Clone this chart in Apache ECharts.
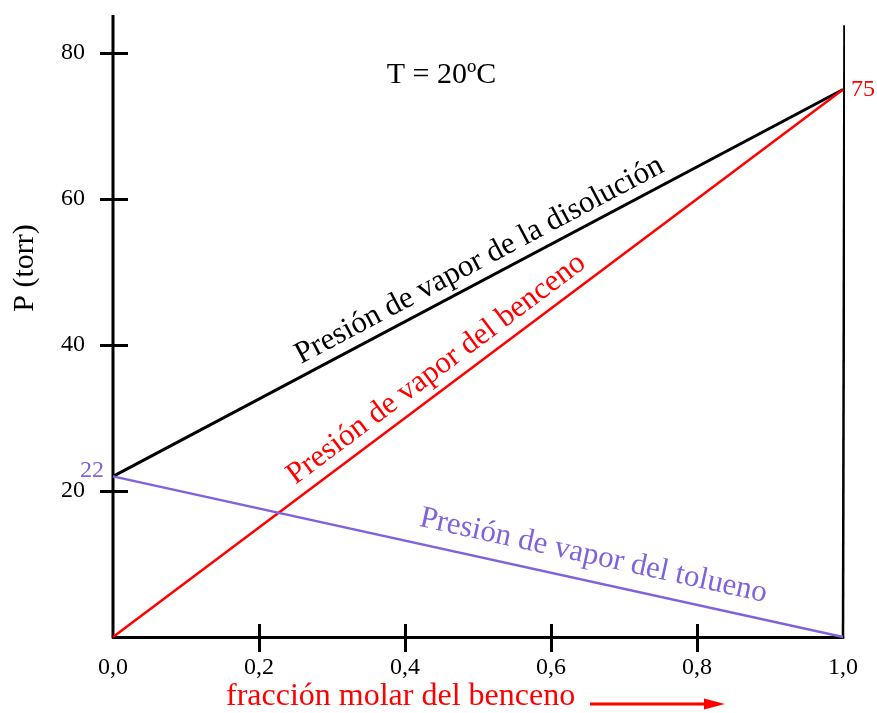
<!DOCTYPE html>
<html><head><meta charset="utf-8">
<script src="https://cdn.jsdelivr.net/npm/echarts@6/dist/echarts.min.js"></script>
<style>html,body{margin:0;padding:0;background:#fff}#c{width:877px;height:713px}</style>
</head><body><div id="c"></div>
<script>
const xLabels = [0, 0.2, 0.4, 0.6, 0.8, 1.0];
const xTicks = [0.2, 0.4, 0.6, 0.8];
const yTicks = [20, 40, 60, 80];
const benceno = [[0, 0], [1, 75]];
const tolueno = [[0, 22], [1, 0]];
const disolucion = [[0, 22], [1, 75]];
const leftAxisLine = [[0, 0], [0, 85.2]];
const rightAxisLine = [[1, 0], [1.002, 83.8]];
const names = {
  disolucion: 'Presión de vapor de la disolución',
  benceno: 'Presión de vapor del benceno',
  tolueno: 'Presión de vapor del tolueno',
  temp: 'T = 20ºC',
  xTitle: 'fracción molar del benceno',
  yTitle: 'P (torr)'
};
// annotation anchors in data coordinates
const annDisolucion = [0.502, 51.6];
const annBenceno = [0.443, 36.7];
const annTolueno = [0.658, 11.1];
const annTemp = [0.45, 77];

const FONT = '"Liberation Serif", "Times New Roman", serif';
const RED = '#ff0000';
const PURPLE = '#8062dc';

const chart = echarts.init(document.getElementById('c'), null, {renderer: 'canvas'});
const gridBox = {left: 113, right: 34, top: 53, bottom: 76};
const fmtX = v => v.toFixed(1).replace('.', ',');

chart.setOption({
  animation: false,
  backgroundColor: '#fff',
  grid: [Object.assign({}, gridBox), Object.assign({}, gridBox)],
  xAxis: [
    {gridIndex: 0, type: 'value', min: 0, max: 1, interval: 0.2,
      axisLine: {show: true, lineStyle: {color: '#000', width: 3}},
      axisTick: {show: true, inside: false, length: 15, lineStyle: {color: '#000', width: 3}, customValues: xTicks},
      axisLabel: {show: true, margin: 19, color: '#000', fontFamily: FONT, fontSize: 24, formatter: fmtX, customValues: xLabels},
      splitLine: {show: false}},
    {gridIndex: 1, type: 'value', min: 0, max: 1, interval: 0.2,
      axisLine: {show: false},
      axisTick: {show: true, inside: true, length: 13, lineStyle: {color: '#000', width: 3}, customValues: xTicks},
      axisLabel: {show: false}, splitLine: {show: false}}
  ],
  yAxis: [
    {gridIndex: 0, type: 'value', min: 0, max: 80, interval: 20,
      axisLine: {show: false},
      axisTick: {show: true, inside: false, length: 13, lineStyle: {color: '#000', width: 3}, customValues: yTicks},
      axisLabel: {show: true, margin: 28, color: '#000', fontFamily: FONT, fontSize: 24, customValues: yTicks},
      splitLine: {show: false}},
    {gridIndex: 1, type: 'value', min: 0, max: 80, interval: 20,
      axisLine: {show: false},
      axisTick: {show: true, inside: true, length: 15, lineStyle: {color: '#000', width: 3}, customValues: yTicks},
      axisLabel: {show: false}, splitLine: {show: false}}
  ],
  series: [
    {type: 'line', xAxisIndex: 0, yAxisIndex: 0, data: leftAxisLine, clip: false, silent: true,
      showSymbol: false, lineStyle: {color: '#000', width: 3}, z: 1},
    {type: 'line', xAxisIndex: 0, yAxisIndex: 0, data: rightAxisLine, clip: false, silent: true,
      showSymbol: false, lineStyle: {color: '#000', width: 2.5}, z: 1},
    {type: 'line', xAxisIndex: 0, yAxisIndex: 0, data: disolucion, clip: false, silent: true,
      showSymbol: false, lineStyle: {color: '#000', width: 3}, z: 3},
    {type: 'line', xAxisIndex: 0, yAxisIndex: 0, clip: false, silent: true,
      symbol: 'circle', symbolSize: 0, showSymbol: true,
      data: benceno.map((d, i) => i === benceno.length - 1 ? {value: d, label: {show: true, position: 'right', distance: 8, formatter: String(d[1]), color: RED, fontFamily: FONT, fontSize: 24}} : {value: d}),
      lineStyle: {color: RED, width: 2.5}, z: 3},
    {type: 'line', xAxisIndex: 0, yAxisIndex: 0, clip: false, silent: true,
      symbol: 'circle', symbolSize: 0, showSymbol: true,
      data: tolueno.map((d, i) => i === 0 ? {value: d, label: {show: true, position: 'left', distance: 9, offset: [0, -6], formatter: String(d[1]), color: PURPLE, fontFamily: FONT, fontSize: 24}} : {value: d}),
      lineStyle: {color: PURPLE, width: 2.5}, z: 3}
  ]
});

function px(p) { return chart.convertToPixel({gridIndex: 0}, p); }
function ang(line) {
  const a = px(line[0]), b = px(line[1]);
  return -Math.atan2(b[1] - a[1], b[0] - a[0]);
}
function rotText(anchor, text, color, rot, size) {
  const p = px(anchor);
  return {type: 'text', x: p[0], y: p[1], rotation: rot, z: 10,
    style: {text: text, fill: color, font: size + 'px ' + FONT, align: 'center', verticalAlign: 'middle'}};
}
const tp = px(annTemp);
chart.setOption({
  graphic: [
    rotText(annDisolucion, names.disolucion, '#000', ang(disolucion), 31),
    rotText(annBenceno, names.benceno, RED, ang(benceno), 31),
    rotText(annTolueno, names.tolueno, PURPLE, ang(tolueno), 31),
    {type: 'text', x: tp[0], y: tp[1], z: 10,
      style: {text: names.temp, fill: '#000', font: '30px ' + FONT, align: 'center', verticalAlign: 'middle'}},
    {type: 'text', x: 25, y: 268, rotation: Math.PI / 2, z: 10,
      style: {text: names.yTitle, fill: '#000', font: '30px ' + FONT, align: 'center', verticalAlign: 'middle'}},
    {type: 'text', x: 226, y: 697, z: 10,
      style: {text: names.xTitle, fill: RED, font: '32px ' + FONT, align: 'left', verticalAlign: 'middle'}},
    {type: 'line', z: 10, shape: {x1: 590, y1: 704, x2: 708, y2: 704}, style: {stroke: RED, lineWidth: 3}},
    {type: 'polygon', z: 10, shape: {points: [[704, 698.5], [725, 704], [704, 709.5]]}, style: {fill: RED}}
  ]
});
</script>
</body></html>
